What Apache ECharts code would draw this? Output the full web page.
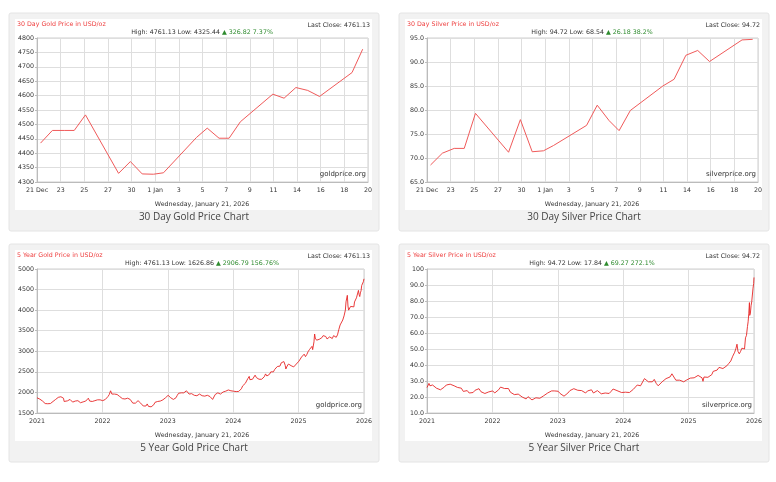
<!DOCTYPE html>
<html>
<head>
<meta charset="utf-8">
<script src="https://cdn.jsdelivr.net/npm/echarts@6/dist/echarts.min.js"></script>
<style>
html,body{margin:0;padding:0;background:#fff;}
#main{width:776px;height:482px;}
</style>
</head>
<body>
<div id="main"></div>
<script>
// 30 day charts: x = slot on the trading-day axis (2 slots per tick label)
var dayTicks = ['21 Dec','23','25','27','30','1 Jan','3','5','7','9','11','14','16','18','20'];
var dayX = [0.3, 1.3, 2.3, 3.15, 4.1, 6.9, 7.9, 8.9, 9.85, 10.7, 13.5, 14.4, 15.4, 16.25, 17.2, 19.95, 20.9, 21.9, 22.9, 23.9, 26.65, 27.55];
var goldDay = [4435, 4479, 4479, 4479, 4533, 4330, 4371, 4328, 4327, 4332, 4455, 4487, 4452, 4452, 4509, 4605, 4591, 4628, 4618, 4597, 4680, 4761.13];
var silverDay = [68.54, 71.0, 72.0, 72.0, 79.3, 71.2, 78.0, 71.3, 71.5, 72.6, 76.8, 81.0, 77.8, 75.7, 79.9, 85.0, 86.4, 91.4, 92.4, 90.1, 94.6, 94.72];

// 5 year charts: x in decimal years, window starts 21 Jan 2021
var yearStart = 2021.055;
var yearTicks = ['2021','2022','2023','2024','2025','2026'];
var goldYearX = [2021.055,2021.08,2021.10,2021.12,2021.14,2021.16,2021.18,2021.20,2021.22,2021.24,2021.26,2021.28,2021.30,2021.32,2021.34,2021.36,2021.38,2021.40,2021.42,2021.44,2021.46,2021.47,2021.50,2021.52,2021.54,2021.56,2021.58,2021.60,2021.62,2021.64,2021.66,2021.68,2021.70,2021.72,2021.74,2021.76,2021.78,2021.80,2021.82,2021.84,2021.86,2021.88,2021.90,2021.92,2021.94,2021.96,2021.98,
  2022.00,2022.02,2022.04,2022.06,2022.08,2022.10,2022.12,2022.14,2022.16,2022.18,2022.20,2022.22,2022.24,2022.26,2022.28,2022.30,2022.32,2022.34,2022.36,2022.38,2022.40,2022.42,2022.44,2022.46,2022.48,2022.50,2022.52,2022.54,2022.56,2022.58,2022.60,2022.62,2022.64,2022.66,2022.68,2022.70,2022.72,2022.74,2022.76,2022.78,2022.80,2022.82,2022.84,2022.86,2022.88,2022.90,2022.92,2022.94,2022.96,2022.98,
  2023.00,2023.02,2023.04,2023.06,2023.08,2023.10,2023.12,2023.14,2023.16,2023.18,2023.20,2023.22,2023.24,2023.26,2023.28,2023.30,2023.32,2023.34,2023.36,2023.38,2023.40,2023.42,2023.44,2023.46,2023.48,2023.50,2023.52,2023.54,2023.56,2023.58,2023.60,2023.62,2023.64,2023.66,2023.68,2023.70,2023.72,2023.74,2023.76,2023.78,2023.80,2023.82,2023.84,2023.86,2023.88,2023.90,2023.92,2023.94,2023.96,2023.98,
  2024.00,2024.02,2024.04,2024.06,2024.08,2024.10,2024.12,2024.14,2024.16,2024.18,2024.20,2024.22,2024.24,2024.26,2024.28,2024.30,2024.31,2024.33,2024.35,2024.37,2024.39,2024.41,2024.43,2024.45,2024.47,2024.49,2024.51,2024.53,2024.55,2024.57,2024.59,2024.61,2024.63,2024.65,2024.67,2024.69,2024.71,2024.73,2024.75,2024.77,2024.79,2024.81,2024.83,2024.85,2024.86,2024.88,2024.90,2024.92,2024.94,2024.96,2024.98,
  2025.00,2025.02,2025.04,2025.06,2025.08,2025.10,2025.12,2025.14,2025.16,2025.18,2025.20,2025.22,2025.24,2025.26,2025.27,2025.29,2025.30,2025.31,2025.33,2025.35,2025.37,2025.39,2025.41,2025.43,2025.45,2025.47,2025.49,2025.51,2025.53,2025.55,2025.57,2025.59,2025.61,2025.63,2025.65,2025.67,2025.69,2025.71,2025.73,2025.75,2025.77,2025.78,2025.80,2025.81,2025.82,2025.84,2025.85,2025.87,2025.88,2025.90,2025.91,2025.93,2025.94,2025.96,2025.97,2025.98,2025.99,
  2026.00,2026.01,2026.02,2026.035,2026.045,2026.055];
var goldYear = [1870,1850,1835,1815,1790,1780,1730,1700,1725,1735,1730,1770,1780,1790,1830,1840,1880,1900,1895,1880,1860,1780,1780,1795,1810,1830,1810,1765,1780,1790,1800,1800,1760,1750,1760,1770,1790,1790,1830,1860,1790,1785,1780,1790,1800,1810,1820,
  1805,1820,1840,1800,1790,1830,1860,1900,1950,2040,1960,1930,1960,1930,1950,1970,1900,1880,1850,1820,1840,1850,1860,1840,1830,1800,1740,1710,1740,1770,1800,1770,1740,1720,1670,1650,1670,1720,1660,1630,1650,1640,1700,1760,1750,1780,1800,1790,1810,1820,
  1850,1870,1900,1930,1920,1870,1840,1830,1820,1870,1930,1980,1970,1990,2000,1990,2010,2040,2010,1960,1950,1970,1960,1930,1910,1920,1930,1960,1940,1920,1900,1910,1920,1930,1920,1900,1870,1830,1860,1950,1980,1990,1970,1960,2000,2010,2040,2030,2040,2060,
  2050,2040,2020,2030,2030,2020,2000,2025,2030,2090,2160,2170,2220,2260,2340,2390,2310,2340,2320,2350,2420,2360,2330,2320,2330,2320,2340,2380,2450,2400,2390,2440,2500,2510,2500,2560,2580,2630,2660,2640,2720,2740,2750,2660,2570,2640,2690,2660,2650,2620,2620,
  2650,2690,2710,2760,2800,2860,2880,2930,2870,2920,2990,3040,3020,3120,3040,3230,3420,3320,3270,3230,3290,3310,3330,3380,3400,3360,3300,3340,3350,3320,3310,3380,3350,3340,3400,3530,3640,3680,3760,3860,4000,4200,4360,4100,4000,3980,4090,4050,4120,4080,4200,4220,4300,4330,4480,4380,4330,
  4420,4470,4600,4620,4690,4761.13];
var silverYearX = [2021.055,2021.07,2021.085,2021.10,2021.12,2021.14,2021.17,2021.20,2021.23,2021.26,2021.29,2021.32,2021.35,2021.38,2021.41,2021.44,2021.47,2021.49,2021.52,2021.55,2021.58,2021.61,2021.64,2021.67,2021.70,2021.73,2021.76,2021.79,2021.82,2021.85,2021.88,2021.91,2021.94,2021.97,
  2022.00,2022.03,2022.06,2022.09,2022.12,2022.15,2022.18,2022.21,2022.24,2022.27,2022.30,2022.33,2022.36,2022.39,2022.42,2022.45,2022.48,2022.51,2022.54,2022.57,2022.60,2022.63,2022.66,2022.69,2022.72,2022.75,2022.78,2022.81,2022.84,2022.87,2022.90,2022.93,2022.96,
  2023.00,2023.03,2023.06,2023.09,2023.12,2023.15,2023.18,2023.21,2023.24,2023.27,2023.30,2023.33,2023.36,2023.39,2023.42,2023.45,2023.48,2023.51,2023.54,2023.57,2023.60,2023.63,2023.66,2023.69,2023.72,2023.75,2023.78,2023.81,2023.84,2023.87,2023.90,2023.93,2023.96,2023.99,
  2024.03,2024.06,2024.09,2024.12,2024.15,2024.18,2024.21,2024.24,2024.27,2024.30,2024.32,2024.35,2024.38,2024.41,2024.44,2024.47,2024.50,2024.53,2024.56,2024.59,2024.62,2024.65,2024.68,2024.71,2024.74,2024.77,2024.80,2024.83,2024.86,2024.89,2024.92,2024.95,2024.98,
  2025.02,2025.05,2025.08,2025.11,2025.14,2025.17,2025.20,2025.23,2025.26,2025.275,2025.29,2025.32,2025.35,2025.38,2025.41,2025.43,2025.46,2025.49,2025.52,2025.55,2025.58,2025.61,2025.64,2025.67,2025.70,2025.73,2025.76,2025.78,2025.795,2025.81,2025.83,2025.85,2025.87,2025.89,2025.91,2025.925,2025.94,2025.955,2025.965,2025.975,2025.985,2025.99,
  2026.00,2026.01,2026.02,2026.03,2026.04,2026.05,2026.055];
var silverYear = [25.9,25.3,28.5,27.0,27.3,27.5,26.5,25.5,25.0,24.5,25.3,26.2,27.5,27.8,28.0,27.8,27.0,26.0,26.0,25.5,25.5,23.5,24.0,24.0,22.5,22.0,22.8,24.2,24.0,25.2,23.3,22.5,22.2,23.0,
  23.2,22.8,23.8,22.5,23.5,24.5,26.2,25.0,25.3,24.8,25.3,23.0,22.2,21.5,22.0,21.8,21.2,20.0,19.0,18.8,20.2,19.0,18.2,19.2,19.5,18.5,19.2,19.8,20.8,21.5,22.5,23.5,23.8,
  23.8,24.0,23.6,22.2,21.5,20.5,21.0,22.5,24.0,25.0,25.2,25.8,24.2,23.5,24.0,23.5,22.5,23.8,24.8,24.5,22.5,23.5,24.0,23.0,22.0,21.0,22.5,23.0,22.2,23.5,25.0,24.8,24.0,23.8,
  22.8,22.5,23.0,22.5,22.8,23.8,24.8,25.0,27.5,28.5,27.0,28.0,31.5,30.5,29.5,30.5,29.5,31.0,28.5,27.0,28.0,29.5,28.5,31.5,31.5,32.5,34.5,32.5,30.5,31.0,30.5,29.5,29.5,
  30.5,30.5,31.8,32.5,32.0,31.5,33.5,33.8,32.0,29.8,32.5,32.8,32.3,33.0,34.0,36.0,36.2,36.8,38.5,37.5,37.8,38.0,39.5,41.0,42.5,45.5,48.0,50.5,53.0,48.5,47.0,48.5,50.5,51.0,50.0,57.0,58.5,64.0,67.0,72.0,79.0,71.0,
  72.5,77.0,79.5,80.0,88.0,91.0,94.72];

var chart = echarts.init(document.getElementById('main'));

var small = 'DejaVu Sans';
var panels = [
  {cx: 9, cy: 13, wide: true, title: '30 Day Gold Price in USD/oz', close: 'Last Close: 4761.13', high: 'High: 4761.13 Low: 4325.44 ', chg: '▲ 326.82 7.37%', caption: '30 Day Gold Price Chart', site: 'goldprice.org', ymin: 4300, ymax: 4800, step: 50},
  {cx: 399, cy: 13, wide: true, title: '30 Day Silver Price in USD/oz', close: 'Last Close: 94.72', high: 'High: 94.72 Low: 68.54 ', chg: '▲ 26.18 38.2%', caption: '30 Day Silver Price Chart', site: 'silverprice.org', ymin: 65, ymax: 95, step: 5},
  {cx: 9, cy: 244, wide: false, title: '5 Year Gold Price in USD/oz', close: 'Last Close: 4761.13', high: 'High: 4761.13 Low: 1626.86 ', chg: '▲ 2906.79 156.76%', caption: '5 Year Gold Price Chart', site: 'goldprice.org', ymin: 1500, ymax: 5000, step: 500},
  {cx: 399, cy: 244, wide: false, title: '5 Year Silver Price in USD/oz', close: 'Last Close: 94.72', high: 'High: 94.72 Low: 17.84 ', chg: '▲ 69.27 272.1%', caption: '5 Year Silver Price Chart', site: 'silverprice.org', ymin: 10, ymax: 100, step: 10}
];

function zip(xs, ys, off) {
  var out = [];
  for (var i = 0; i < xs.length; i++) out.push([xs[i] - off, ys[i]]);
  return out;
}
var seriesData = [
  zip(dayX, goldDay, 0),
  zip(dayX, silverDay, 0),
  zip(goldYearX, goldYear, yearStart),
  zip(silverYearX, silverYear, yearStart)
];

var grids = [], xAxes = [], yAxes = [], series = [], graphics = [];

panels.forEach(function (p, i) {
  var gl = p.cx + 28;
  var gw = p.wide ? 331 : 327;
  var gt = p.cy + 25;
  var gh = 144;
  grids.push({left: gl, top: gt, width: gw, height: gh, show: true, backgroundColor: '#fff', borderColor: '#cfcfcf', borderWidth: 1});

  var daily = i < 2;
  xAxes.push({
    type: 'value', gridIndex: i,
    min: 0, max: daily ? 28 : 5, interval: daily ? 2 : 1,
    axisLine: {lineStyle: {color: '#bbb'}},
    axisTick: {show: false},
    splitLine: {show: true, lineStyle: {color: '#dedede', width: 1}},
    axisLabel: {
      fontFamily: small, fontSize: 6.3, color: '#333', margin: 5,
      formatter: function (v) { return daily ? dayTicks[Math.round(v / 2)] : yearTicks[Math.round(v)]; }
    }
  });
  yAxes.push({
    type: 'value', gridIndex: i,
    min: p.ymin, max: p.ymax, interval: p.step,
    axisLine: {show: true, lineStyle: {color: '#bbb'}},
    axisTick: {show: true, length: 2, lineStyle: {color: '#bbb'}},
    splitLine: {show: true, lineStyle: {color: '#dedede', width: 1}},
    axisLabel: {
      fontFamily: small, fontSize: 6.3, color: '#333', margin: 3,
      formatter: function (v) {
        if (i === 1 || (i === 3 && v < 100)) return v.toFixed(1);
        return String(v);
      }
    }
  });
  series.push({
    type: 'line', xAxisIndex: i, yAxisIndex: i,
    data: seriesData[i], symbol: 'none', animation: false,
    lineStyle: {color: daily ? '#f05a5a' : '#e62626', width: daily ? 1 : 0.9}
  });

  // card + white panel
  graphics.push({type: 'rect', z: -10, shape: {x: p.cx, y: p.cy, width: 370, height: 218, r: 2},
    style: {fill: '#f2f2f2', stroke: '#e4e4e4', lineWidth: 1}});
  graphics.push({type: 'rect', z: -9, shape: {x: p.cx + 6, y: p.cy + 6, width: 357, height: 191},
    style: {fill: '#fff'}});

  graphics.push({type: 'text', z: 10, x: p.cx + 8, y: p.cy + 11,
    style: {text: p.title, font: '6.3px "DejaVu Sans"', fill: '#ee3c3c', verticalAlign: 'middle'}});
  graphics.push({type: 'text', z: 10, x: p.cx + 361, y: p.cy + 12,
    style: {text: p.close, font: '6.3px "DejaVu Sans"', fill: '#333', align: 'right', verticalAlign: 'middle'}});
  graphics.push({type: 'text', z: 10, x: p.cx + 193, y: p.cy + 19,
    style: {text: '{k|' + p.high + '}{g|' + p.chg + '}', align: 'center', verticalAlign: 'middle',
      rich: {k: {fontFamily: small, fontSize: 6.3, fill: '#333'}, g: {fontFamily: small, fontSize: 6.3, fill: '#2e8b2e'}}}});
  graphics.push({type: 'text', z: 10, x: gl + gw - 2, y: gt + gh - 4,
    style: {text: p.site, font: '7px "DejaVu Sans"', fill: '#333', align: 'right', verticalAlign: 'bottom'}});
  graphics.push({type: 'text', z: 10, x: p.cx + 193, y: p.cy + 191,
    style: {text: 'Wednesday, January 21, 2026', font: '6.3px "DejaVu Sans"', fill: '#333', align: 'center', verticalAlign: 'middle'}});
  graphics.push({type: 'text', z: 10, x: p.cx + 185, y: p.cy + 204,
    style: {text: p.caption, font: '10px "Open Sans"', fill: '#444', align: 'center', verticalAlign: 'middle'}});
});

var option = {
  animation: false,
  grid: grids,
  xAxis: xAxes,
  yAxis: yAxes,
  series: series,
  graphic: graphics
};
chart.setOption(option);
</script>
</body>
</html>
